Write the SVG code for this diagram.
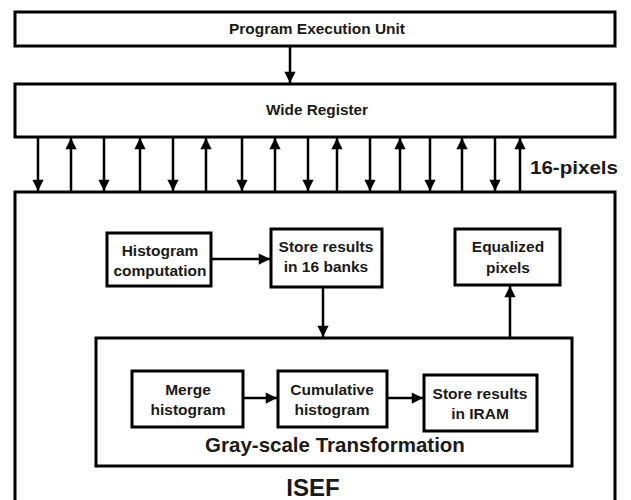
<svg xmlns="http://www.w3.org/2000/svg" width="631" height="500" viewBox="0 0 631 500">
<style>
.box{fill:#fff;stroke:#000;stroke-width:3}
.ln{stroke:#000;stroke-width:2.5;fill:none}
text{font-family:"Liberation Sans",Arial,sans-serif;font-weight:bold;fill:#1a1a1a;text-anchor:middle}
.s{font-size:15.5px}
.t{font-size:15px}
</style>
<defs>
<marker id="ah" viewBox="0 0 10 10" refX="10" refY="5" markerWidth="4.8" markerHeight="4.5" orient="auto" markerUnits="strokeWidth"><path d="M0,0 L10,5 L0,10 z" fill="#000"/></marker>
</defs>
<g id="peu"><rect class="box" x="15" y="12" width="600" height="34"/><text class="t" x="317" y="34" textLength="176" lengthAdjust="spacingAndGlyphs">Program Execution Unit</text></g>
<g id="wide"><rect class="box" x="15" y="84" width="600" height="53"/><text class="t" x="317" y="115" textLength="102" lengthAdjust="spacingAndGlyphs">Wide Register</text></g>
<g id="isef"><rect class="box" x="15" y="192" width="600" height="320"/><text x="313" y="496" style="font-size:24px">ISEF</text></g>
<g id="gray"><rect class="box" x="96" y="338" width="476" height="128"/><text x="335" y="452" style="font-size:20.5px">Gray-scale Transformation</text></g>
<g id="hist"><rect class="box" x="107" y="233" width="104" height="53"/><text class="s" x="160" y="256">Histogram</text><text class="s" x="160" y="276">computation</text></g>
<g id="store16"><rect class="box" x="271" y="229" width="111" height="58"/><text class="s" x="326" y="252">Store results</text><text class="s" x="326" y="272">in 16 banks</text></g>
<g id="equal"><rect class="box" x="455" y="229" width="105" height="56"/><text class="s" x="508" y="252">Equalized</text><text class="s" x="508" y="273">pixels</text></g>
<g id="merge"><rect class="box" x="132" y="371" width="111" height="56"/><text class="s" x="188" y="395">Merge</text><text class="s" x="188" y="415">histogram</text></g>
<g id="cum"><rect class="box" x="278" y="371" width="109" height="56"/><text class="s" x="332" y="395">Cumulative</text><text class="s" x="332" y="415">histogram</text></g>
<g id="iram"><rect class="box" x="424" y="375" width="113" height="56"/><text class="s" x="480" y="399">Store results</text><text class="s" x="480" y="419">in IRAM</text></g>
<text x="574" y="174" style="font-size:19px" textLength="88" lengthAdjust="spacingAndGlyphs">16-pixels</text>
<g id="connectors" class="ln" marker-end="url(#ah)">
<line x1="290" y1="47" x2="290" y2="83"/>
<line x1="211" y1="259" x2="270" y2="259"/>
<line x1="323" y1="288" x2="323" y2="337"/>
<line x1="510" y1="337" x2="510" y2="286"/>
<line x1="243" y1="398" x2="277" y2="398"/>
<line x1="387" y1="398" x2="423" y2="398"/>
<line x1="38" y1="138" x2="38" y2="191"/>
<line x1="71" y1="191" x2="71" y2="138"/>
<line x1="104" y1="138" x2="104" y2="191"/>
<line x1="140" y1="191" x2="140" y2="138"/>
<line x1="173" y1="138" x2="173" y2="191"/>
<line x1="206" y1="191" x2="206" y2="138"/>
<line x1="242" y1="138" x2="242" y2="191"/>
<line x1="275" y1="191" x2="275" y2="138"/>
<line x1="308" y1="138" x2="308" y2="191"/>
<line x1="337" y1="191" x2="337" y2="138"/>
<line x1="370" y1="138" x2="370" y2="191"/>
<line x1="400" y1="191" x2="400" y2="138"/>
<line x1="430" y1="138" x2="430" y2="191"/>
<line x1="462" y1="191" x2="462" y2="138"/>
<line x1="495" y1="138" x2="495" y2="191"/>
<line x1="520" y1="191" x2="520" y2="138"/>
</g>
</svg>
